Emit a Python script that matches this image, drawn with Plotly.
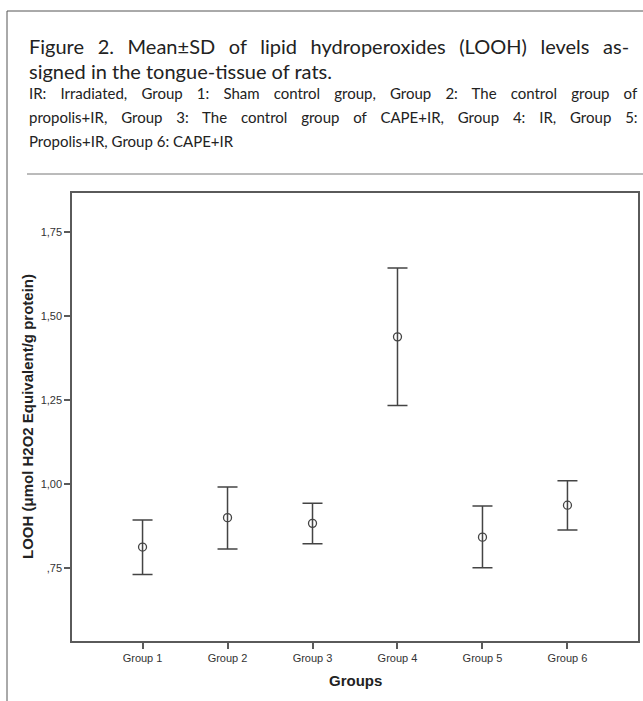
import plotly.graph_objects as go

# ---- data ----
groups = ["Group 1", "Group 2", "Group 3", "Group 4", "Group 5", "Group 6"]
means = [0.8125, 0.900, 0.883, 1.438, 0.842, 0.937]
upper = [0.893, 0.991, 0.943, 1.643, 0.9345, 1.010]
lower = [0.731, 0.8065, 0.822, 1.234, 0.751, 0.863]
ytick_vals = [0.75, 1.00, 1.25, 1.50, 1.75]
ytick_text = [",75", "1,00", "1,25", "1,50", "1,75"]

caption_lines = [
    "Figure 2. Mean±SD of lipid hydroperoxides (LOOH) levels as-",
    "signed in the tongue-tissue of rats.",
    "IR: Irradiated, Group 1: Sham control group, Group 2: The control group of",
    "propolis+IR, Group 3: The control group of CAPE+IR, Group 4: IR, Group 5:",
    "Propolis+IR, Group 6: CAPE+IR",
]
x_title = "Groups"
y_title = "LOOH (μmol H2O2 Equivalent/g protein)"

# ---- geometry helpers (pixels -> paper) ----
W, H = 643, 701
def X(px):
    return px / W
def Y(py):
    return 1 - py / H

xpos = list(range(len(groups)))
err_plus = [u - m for u, m in zip(upper, means)]
err_minus = [m - l for m, l in zip(means, lower)]

line_col = "#444444"
fig = go.Figure()
fig.add_trace(go.Scatter(
    x=xpos, y=means, mode="markers",
    marker=dict(symbol="circle-open", size=8, color=line_col, line=dict(width=1.3, color=line_col)),
    error_y=dict(type="data", symmetric=False, array=err_plus, arrayminus=err_minus,
                 color=line_col, thickness=1.5, width=10),
    hoverinfo="skip",
))

axis_font = dict(family="Liberation Sans, Arial, sans-serif", size=11, color="#333333")
fig.update_layout(
    width=W, height=H, autosize=False,
    margin=dict(l=0, r=0, t=0, b=0),
    paper_bgcolor="white", plot_bgcolor="white",
    showlegend=False,
    xaxis=dict(domain=[X(72), X(638)], range=[-0.83, 5.83],
               tickvals=xpos, ticktext=groups, showgrid=False, zeroline=False,
               showline=True, mirror=True, linecolor="#5a5a5a", linewidth=1.5,
               ticks="outside", ticklen=6, tickwidth=1.5, tickcolor="#5a5a5a",
               tickfont=axis_font, automargin=False),
    yaxis=dict(domain=[Y(641), Y(193)], range=[0.533, 1.866],
               tickvals=ytick_vals, ticktext=ytick_text, showgrid=False, zeroline=False,
               showline=True, mirror=True, linecolor="#5a5a5a", linewidth=1.5,
               ticks="outside", ticklen=6, tickwidth=1.5, tickcolor="#5a5a5a",
               tickfont=axis_font, automargin=False),
)

# frame lines
frame = dict(color="#555555", width=1)
fig.add_shape(type="line", xref="paper", yref="paper", x0=X(7), x1=X(643), y0=Y(11), y1=Y(11), line=frame)
fig.add_shape(type="line", xref="paper", yref="paper", x0=X(7), x1=X(7), y0=Y(11), y1=Y(701), line=frame)
fig.add_shape(type="line", xref="paper", yref="paper", x0=X(27), x1=X(643), y0=Y(174), y1=Y(174),
              line=dict(color="#777777", width=1))

# caption (justified lines emulated with word spacing)
cap_sizes = [20, 20, 15, 15, 15]
cap_wordspacing = [8.5, 0, 10.3, 10, 0]
cap_y = [46, 71, 93, 117, 141]
for txt, fs, ws, cy in zip(caption_lines, cap_sizes, cap_wordspacing, cap_y):
    t = txt if ws == 0 else '<span style="word-spacing:%.1fpx">%s</span>' % (ws, txt)
    fig.add_annotation(text=t, xref="paper", yref="paper", x=X(27), y=Y(cy),
                       xanchor="left", yanchor="middle", showarrow=False,
                       font=dict(family="Lato, sans-serif", size=fs, color="#222222"))

# axis titles
title_font = dict(family="Liberation Sans, Arial, sans-serif", size=15, color="#222222")
fig.add_annotation(text="<b>" + x_title + "</b>", xref="paper", yref="paper", x=X(355), y=Y(680),
                   xanchor="center", yanchor="middle", showarrow=False, font=title_font)
fig.add_annotation(text="<b>" + y_title + "</b>", xref="paper", yref="paper", x=X(27), y=Y(417),
                   xanchor="center", yanchor="middle", showarrow=False, textangle=-90, font=title_font)

fig.write_html("out.html")
